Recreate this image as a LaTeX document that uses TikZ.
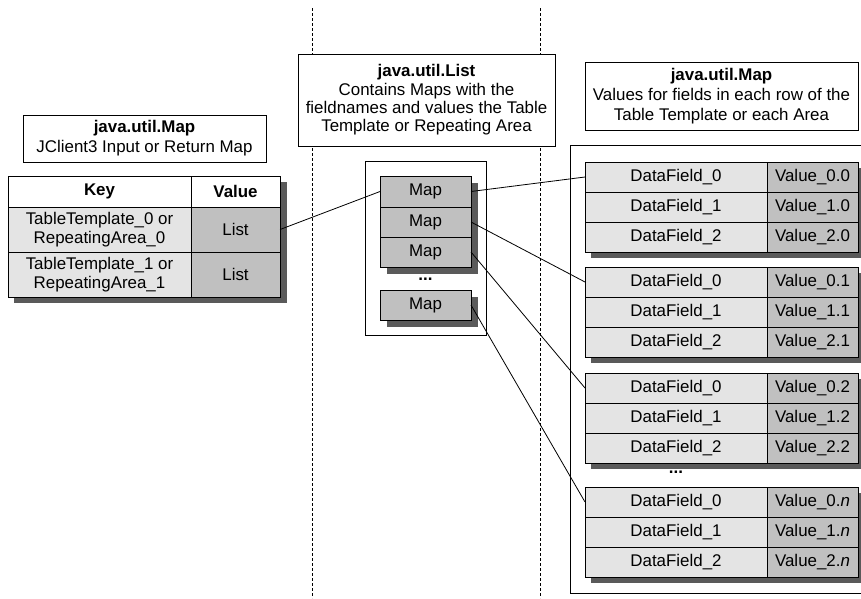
\documentclass[tikz,border=0pt]{standalone}
\usepackage{fontspec}
\setmainfont{Liberation Sans}
\definecolor{cellL}{HTML}{E4E4E4}
\definecolor{cellD}{HTML}{C0C0C0}
\definecolor{shad}{HTML}{5A5A5A}
\newcommand\myfs{\fontsize{16.9}{19}\selectfont}
\begin{document}
\begin{tikzpicture}[x=1pt,y=-1pt, line width=1pt,
  cell/.style={draw, inner sep=0pt, outer sep=0pt, anchor=north west, font=\myfs, align=center},
  wh/.style={cell, fill=white},
  lt/.style={cell, fill=cellL},
  dk/.style={cell, fill=cellD},
  titlebox/.style={draw, fill=white, inner sep=0pt, outer sep=0pt, align=center, font=\myfs},
  container/.style={draw, fill=white},
  guide/.style={dash pattern=on 3pt off 2pt, line width=0.8pt},
  link/.style={line width=0.8pt}]
\useasboundingbox (0,0) rectangle (861,598);
\clip (0,0) rectangle (861,598);
% dashed separators
\draw[guide] (312,8) -- (312,598);
\draw[guide] (540,8) -- (540,598);
% titles
\node[titlebox, minimum width=243pt, minimum height=47pt, font=\fontsize{16.9}{20}\selectfont] (tl) at (144.5,138.5)
  {\textbf{java.util.Map}\\JClient3 Input or Return Map};
\node[titlebox, minimum width=257pt, minimum height=92pt, font=\fontsize{16.9}{18.3}\selectfont] (tm) at (426.5,100)
  {\textbf{java.util.List}\\Contains Maps with the\\fieldnames and values the Table\\Template or Repeating Area};
\node[titlebox, minimum width=273pt, minimum height=68pt, font=\fontsize{16.9}{20}\selectfont] (tr) at (721.5,96)
  {\textbf{java.util.Map}\\Values for fields in each row of the\\Table Template or each Area};
% left table
\fill[shad] (14,182) rectangle (287,303);
\node[wh, minimum width=183pt, minimum height=31pt, font=\myfs\bfseries] (k0) at (8,176) {Key};
\node[wh, minimum width=89pt, minimum height=31pt, font=\myfs\bfseries] (v0) at (191,176) {Value};
\node[lt, minimum width=183pt, minimum height=45pt] (k1) at (8,207) {TableTemplate\_0 or\\RepeatingArea\_0};
\node[dk, minimum width=89pt, minimum height=45pt] (v1) at (191,207) {List};
\node[lt, minimum width=183pt, minimum height=45pt] (k2) at (8,252) {TableTemplate\_1 or\\RepeatingArea\_1};
\node[dk, minimum width=89pt, minimum height=45pt] (v2) at (191,252) {List};
% middle list
\draw[container] (365,161) rectangle (486,335);
\fill[shad] (387,183) rectangle (478,274);
\fill[shad] (387,297) rectangle (478,327);
\node[dk, minimum width=91pt, minimum height=31pt] (m1) at (380,176) {Map};
\node[dk, minimum width=91pt, minimum height=30pt] (m2) at (380,207) {Map};
\node[dk, minimum width=91pt, minimum height=30pt] (m3) at (380,237) {Map};
\node[font=\myfs\bfseries, inner sep=0pt] (mdots) at (425.5,279) {...};
\node[dk, minimum width=91pt, minimum height=30pt] (m4) at (380,290) {Map};
% right maps
\draw[container] (570,145) rectangle (880,593);
\foreach \ti/\top/\suf in {1/162/0, 2/267/1, 3/373/2, 4/487/{\textit{n}}} {
  \fill[shad] (591,\top+6) rectangle (866,\top+96);
  \foreach \r in {0,1,2} {
    \node[lt, minimum width=182pt, minimum height=30pt] (t\ti k\r) at (585,\top+30*\r) {DataField\_\r};
    \node[dk, minimum width=91pt, minimum height=30pt] (t\ti v\r) at (767,\top+30*\r) {Value\_\r.\suf};
  }
}
\node[font=\myfs\bfseries, inner sep=0pt] (rdots) at (676,472) {...};
% connectors
\draw[link] (v1.east) -- (m1.west);
\draw[link] (m1.east) -- (t1k0.west);
\draw[link] (m2.east) -- (t2k0.west);
\draw[link] (m3.east) -- (t3k0.west);
\draw[link] (m4.east) -- (t4k0.west);
\end{tikzpicture}
\end{document}
